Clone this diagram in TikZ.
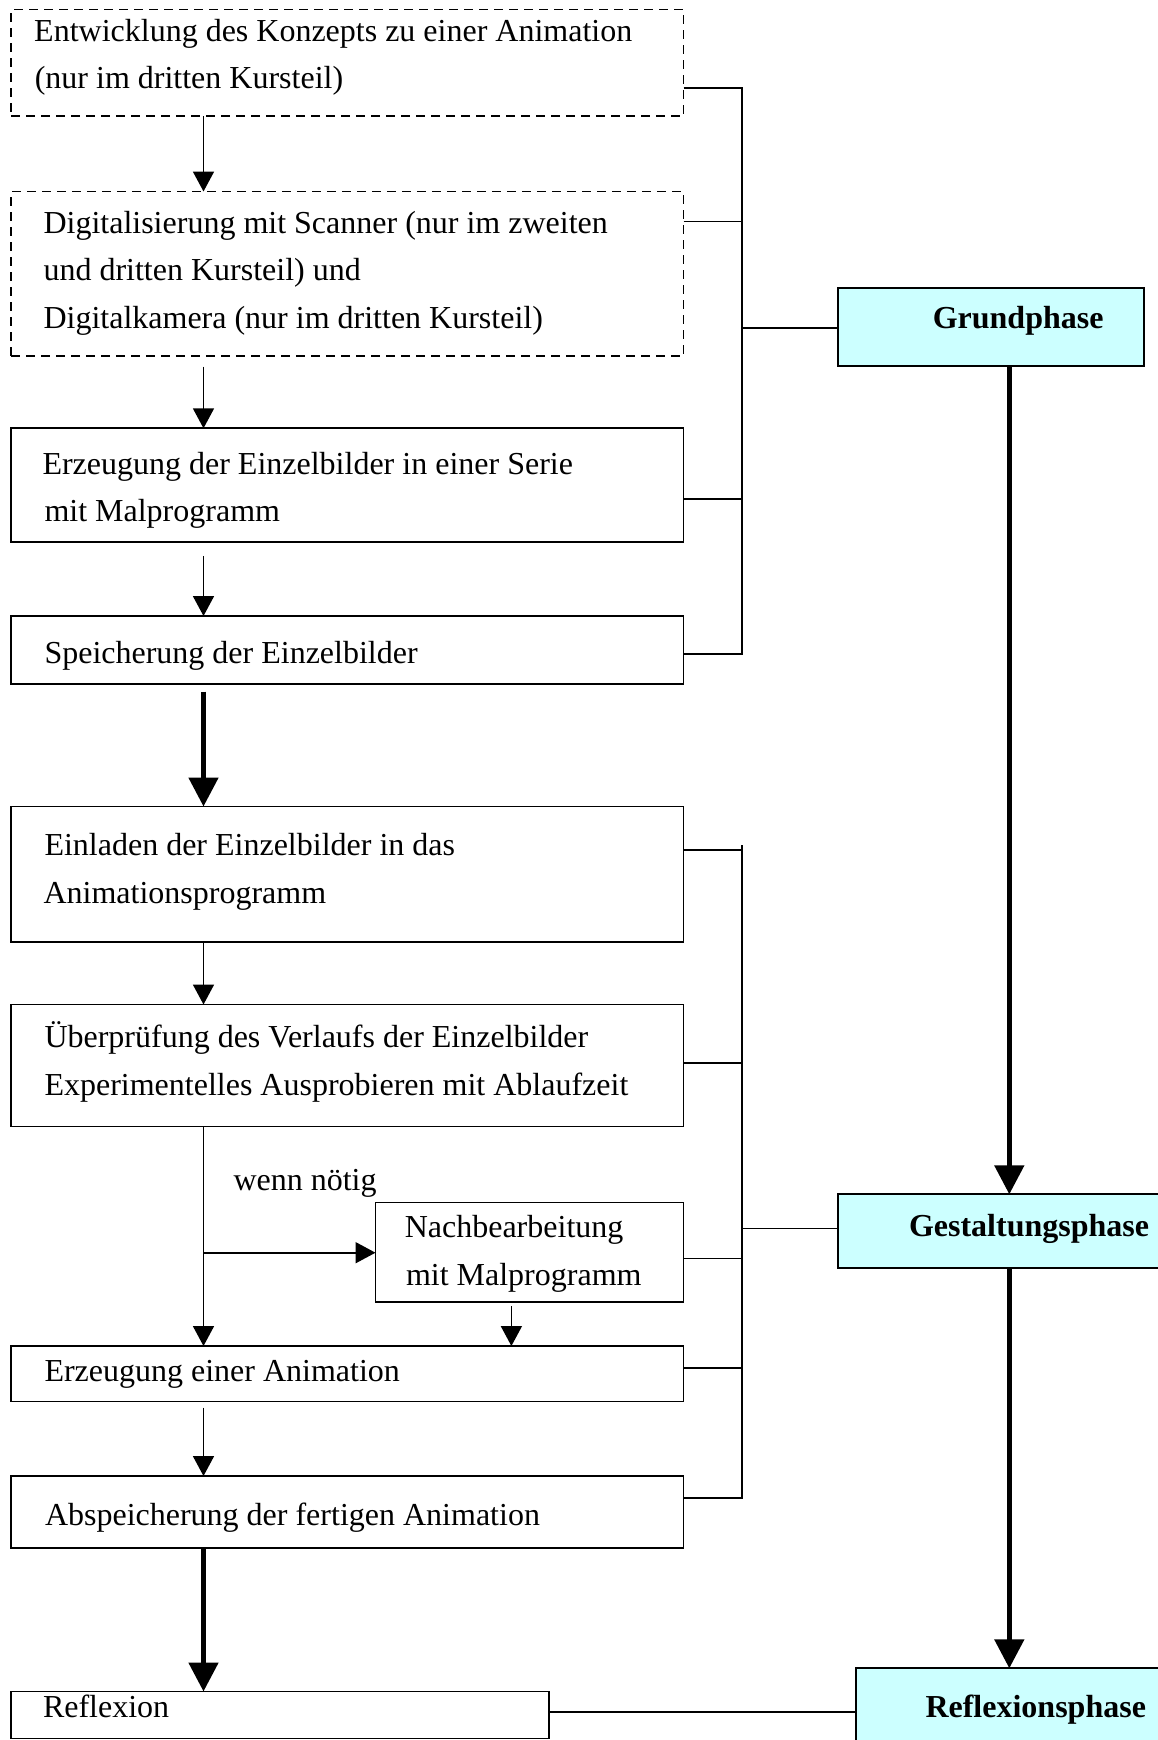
\documentclass[tikz,border=0pt]{standalone}
\usepackage{fontspec}
\setmainfont{Liberation Serif}
\usetikzlibrary{arrows.meta,calc}
\definecolor{phasecyan}{RGB}{204,255,255}
\begin{document}
\begin{tikzpicture}[x=1pt,y=-1pt,
  link/.style={line width=1.8pt},
  box/.style={draw, line width=1.8pt, rectangle, anchor=north west, inner sep=0pt, outer sep=0pt},
  dbox/.style={box, dash pattern=on 9pt off 6pt},
  phasebox/.style={box, fill=phasecyan},
  txt/.style={anchor=base west, inner sep=0pt, outer sep=0pt, font=\fontsize{32}{40}\selectfont},
  btxt/.style={txt, font=\fontsize{32}{40}\selectfont\bfseries},
  arr/.style={line width=1.8pt, -{Triangle[length=20pt,width=21pt]}},
  harr/.style={line width=5pt, -{Triangle[length=29pt,width=29pt]}}
]
\clip (0,0) rectangle (1158,1740);
\fill[white] (0,0) rectangle (1158,1740);

% boxes
\node[dbox, minimum width=672.5pt, minimum height=106.5pt] (b1) at (11,9.5) {};
\node[dbox, minimum width=672.5pt, minimum height=164.5pt] (b2) at (11,191.5) {};
\node[box, minimum width=672.5pt, minimum height=114pt] (b3) at (11,428.3) {};
\node[box, minimum width=672.5pt, minimum height=68pt] (b4) at (11,616) {};
\node[box, minimum width=672.5pt, minimum height=135.5pt] (b5) at (11,806.5) {};
\node[box, minimum width=672.5pt, minimum height=122pt] (b6) at (11,1004.5) {};
\node[box, minimum width=308pt, minimum height=99.5pt] (b7) at (375.5,1202.5) {};
\node[box, minimum width=672.5pt, minimum height=55.5pt] (b8) at (11,1346) {};
\node[box, minimum width=672.5pt, minimum height=72pt] (b9) at (11,1476) {};
\node[box, minimum width=538pt, minimum height=47pt] (b10) at (11,1691.5) {};
\node[phasebox, minimum width=306pt, minimum height=78pt] (g1) at (837.7,288) {};
\node[phasebox, minimum width=360pt, minimum height=73.4pt] (g2) at (837.7,1194.3) {};
\node[phasebox, minimum width=340pt, minimum height=100pt] (g3) at (856,1668.3) {};

% texts
\node[txt] (t1a) at (34.2,41) {Entwicklung des Konzepts zu einer Animation};
\node[txt] (t1b) at (34.8,88.5) {(nur im dritten Kursteil)};
\node[txt] (t2a) at (43.5,233) {Digitalisierung mit Scanner (nur im zweiten};
\node[txt] (t2b) at (43.5,280.6) {und dritten Kursteil) und};
\node[txt] (t2c) at (43.5,328.3) {Digitalkamera (nur im dritten Kursteil)};
\node[txt] (t3a) at (42.5,474) {Erzeugung der Einzelbilder in einer Serie};
\node[txt] (t3b) at (44.5,521.5) {mit Malprogramm};
\node[txt] (t4) at (44.5,663.3) {Speicherung der Einzelbilder};
\node[txt] (t5a) at (44.5,855.5) {Einladen der Einzelbilder in das};
\node[txt] (t5b) at (43.5,903.5) {Animationsprogramm};
\node[txt] (t6a) at (44.5,1047) {Überprüfung des Verlaufs der Einzelbilder};
\node[txt] (t6b) at (44.5,1095) {Experimentelles Ausprobieren mit Ablaufzeit};
\node[txt] (tw) at (233.5,1190.2) {wenn nötig};
\node[txt] (t7a) at (404.8,1237.5) {Nachbearbeitung};
\node[txt] (t7b) at (406,1285.5) {mit Malprogramm};
\node[txt] (t8) at (44.5,1381.3) {Erzeugung einer Animation};
\node[txt] (t9) at (45,1525.2) {Abspeicherung der fertigen Animation};
\node[txt] (t10) at (43,1717) {Reflexion};
\node[btxt] (tg1) at (932.8,328.3) {Grundphase};
\node[btxt] (tg2) at (909,1236.8) {Gestaltungsphase};
\node[btxt] (tg3) at (925.5,1717) {Reflexionsphase};

% main flow
\coordinate (ax) at (203.5,0);
\coordinate (ax7) at (511.4,0);
\draw[arr] (b1.south -| ax) -- (b2.north -| ax);
\draw[arr] ($(b2.south -| ax)+(0,10.7)$) -- (b3.north -| ax);
\draw[arr] ($(b3.south -| ax)+(0,13.5)$) -- (b4.north -| ax);
\draw[harr] ($(b4.south -| ax)+(0,7.7)$) -- (b5.north -| ax);
\draw[arr] (b5.south -| ax) -- (b6.north -| ax);
\draw[arr] (b6.south -| ax) -- (b8.north -| ax);
\coordinate (br) at (203.5,1252.7);
\draw[arr] (br) -- (b7.west |- br);
\draw[arr] ($(b7.south -| ax7)+(0,4)$) -- (b8.north -| ax7);
\draw[arr] ($(b8.south -| ax)+(0,6)$) -- (b9.north -| ax);
\draw[harr] (b9.south -| ax) -- (b10.north -| ax);

% phase flow
\coordinate (px) at (1009.3,0);
\draw[harr] (g1.south -| px) -- (g2.north -| px);
\draw[harr] (g2.south -| px) -- (g3.north -| px);

% bracket 1
\coordinate (k1) at (741.6,88.2);
\coordinate (k2) at (741.6,221.5);
\coordinate (k3) at (741.6,499.3);
\coordinate (k4) at (741.6,654);
\coordinate (kg) at (741.6,328.3);
\draw[link] (b1.east |- k1) -- (k1) -- (k4) -- (b4.east |- k4);
\draw[link] (b2.east |- k2) -- (k2);
\draw[link] (b3.east |- k3) -- (k3);
\draw[link] (kg) -- (g1.west |- kg);

% bracket 2
\coordinate (m0) at (741.6,845);
\coordinate (m5) at (741.6,850);
\coordinate (m6) at (741.6,1062.7);
\coordinate (m7) at (741.6,1258.5);
\coordinate (m8) at (741.6,1367.7);
\coordinate (m9) at (741.6,1497.7);
\coordinate (mg) at (741.6,1228.5);
\draw[link] (m0) -- (m9) -- (b9.east |- m9);
\draw[link] (b5.east |- m5) -- (m5);
\draw[link] (b6.east |- m6) -- (m6);
\draw[link] (b7.east |- m7) -- (m7);
\draw[link] (b8.east |- m8) -- (m8);
\draw[link] (mg) -- (g2.west |- mg);

% reflexion link
\coordinate (rl) at (0,1712);
\draw[link] (b10.east |- rl) -- (g3.west |- rl);
\end{tikzpicture}
\end{document}
